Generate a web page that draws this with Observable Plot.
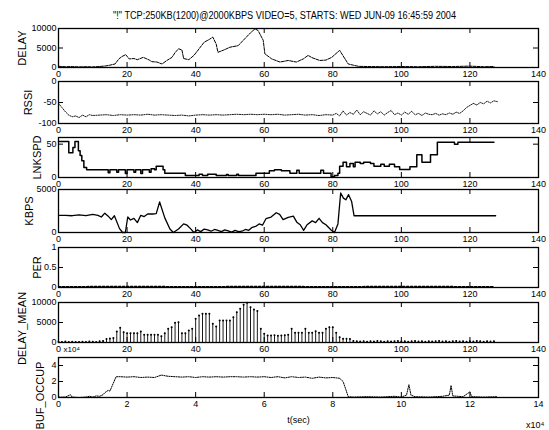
<!DOCTYPE html>
<html><head><meta charset="utf-8">
<script src="https://cdn.jsdelivr.net/npm/d3@7"></script>
<script src="https://cdn.jsdelivr.net/npm/@observablehq/plot@0.6"></script>
<style>
body{margin:0;background:#fff;}
#wrap{position:relative;width:549px;height:430px;overflow:hidden;background:#fff;}
#wrap svg{position:absolute;left:0;}
</style></head><body><div id="wrap"></div>
<script>
const titleText = '"!" TCP:250KB(1200)@2000KBPS VIDEO=5, STARTS: WED JUN-09 16:45:59 2004';
const xTicks = [0,20,40,60,80,100,120,140];
const bufXTicks = [0,2,4,6,8,10,12,14];
const panelNames = ["DELAY","RSSI","LNKSPD","KBPS","PER","DELAY_MEAN","BUF_OCCUP"];

const delayT = [0,2,4,6,8,10,12,13.7,15,16.5,17.6,18.5,19.6,20.6,22,23,24.7,25.5,26.5,27.2,28.7,30.2,31.6,33.1,34,35,36,36.5,38,39.5,41,42.5,44,45,46,46.5,48,50,52.4,54.8,56,57.3,58.2,59.7,60.2,62.2,64.6,67,69.4,71.4,72.8,74,76.2,78,79.7,82,83,84.5,86,87.5,90,95,100,105,110,115,120,124,127];
const delayV = [300,200,250,150,200,150,250,400,600,900,2200,2800,3300,2200,2300,2000,2600,2300,1900,1500,1400,900,1800,2600,3800,4800,4500,2300,2000,3100,4800,6500,7200,7800,6000,3900,4400,5200,5600,7800,8900,9900,9500,7000,3500,2200,1400,1800,1400,2200,3100,2500,1800,1900,2600,4400,3000,900,600,300,250,200,250,200,300,250,350,200,250];

const rssiT = [0,1,2,3,4,5,6,7,8,9,10,12,14,16,18,20,22,24,26,28,30,32,34,36,38,40,42,44,46,48,50,52,54,56,58,60,62,64,66,68,70,72,74,76,78,80,81,82,83,84,85,86,87,88,89,90,91,92,93,94,95,96,97,98,99,100,101,102,103,104,105,106,107,108,109,110,111,112,113,114,115,116,117,118,119,120,121,122,123,124,125,126,127,128];
const rssiV = [-52,-62,-72,-80,-84,-82,-86,-80,-84,-79,-81,-80,-79,-81,-79,-80,-79,-80,-78,-80,-79,-80,-81,-80,-82,-80,-79,-80,-79,-80,-79,-78,-79,-78,-79,-78,-79,-78,-80,-79,-78,-80,-79,-81,-79,-80,-76,-82,-70,-80,-74,-78,-68,-79,-72,-76,-80,-70,-77,-72,-80,-74,-69,-79,-75,-80,-73,-78,-71,-79,-76,-81,-75,-78,-79,-76,-80,-77,-79,-75,-78,-73,-76,-70,-62,-57,-52,-56,-50,-53,-47,-51,-46,-48];

const lnkT = [0,3,4.2,4.8,5.8,6.3,6.8,7.4,8.2,14.5,15,17,17.5,19.5,20,22,22.5,24,24.5,26.5,27,28,28.5,30.5,31,37,41,42,43.5,46,49,49.5,52,52.5,57.6,61.5,63,65,67.5,69.5,70.2,76.5,77.3,79.5,80.5,81.5,82,83,84,85,86,86.5,88,89,91,92,94,95,96.5,98,99.5,102.5,104.5,106,108.5,110.5,115.5,116.5,127];
const lnkV = [54,37,45,54,40,33,25,15,11.5,7,11.5,8,11.5,6,11.5,8,11.5,6,11.5,8,13,11.5,17,11.5,6.5,3,5,3,5,3,4.5,3,5,3,6.5,10,11.5,10,6.5,11,6.5,11,6.5,1,3,6.5,17,23,16,21,16,23,21,23,21,17,20,17,20,16,12,16,34,23,34,53,50,53,53];

const kbpsT = [0.3,2,4,6,8,10,11.5,12.5,13.5,14.5,15.4,16.3,17.8,18.7,19.5,20.2,21,22,23,24,25,26,27.5,28.5,29.5,31,32.5,33.5,35,36.5,37.5,38.5,39.5,40.5,41.5,42.5,43.5,44.5,45.5,46.5,47.5,48.5,49.5,50.5,51.5,52.5,53.5,54.5,55.5,56.5,57.5,58.5,59.5,60.5,62,63.5,64.5,65.5,67,68.5,69.5,70.5,71.5,72.5,74,75,76,77,78,79.5,80.5,81.5,82.3,83.1,83.8,84.6,85.5,86.2,127.5];
const kbpsV = [2000,2000,1950,2050,1950,2100,2000,1800,2250,1900,1500,1950,450,0,0,1800,1450,1650,1150,2000,1850,2150,2150,2200,3550,1700,400,0,400,1000,850,450,0,300,100,400,300,150,350,250,100,300,200,50,250,100,150,350,250,600,700,1000,850,1600,1800,2300,2100,1500,1750,1900,1200,900,250,900,1350,1150,1650,1150,900,300,0,1000,4600,4000,3800,4400,3600,1950,1950];

const perT = [0,20,40,60,80,100,127];
const perV = [0.02,0.03,0.02,0.03,0.02,0.03,0.02];

const delayMeanV = [
200,150,250,100,200,150,100,200,150,250,
200,150,300,400,900,1000,1100,2750,3670,2580,
2330,2330,2330,2330,2750,1920,1920,1920,1920,1920,
1580,2330,3420,3830,4920,5080,2330,2330,3000,3420,
5920,6750,7170,7170,7170,4670,4000,5500,5500,5500,
5500,6330,7580,8420,9420,9920,8830,8250,7900,3420,
2170,1750,1750,1800,1700,1750,1800,1920,3420,2420,
2420,2420,3420,2420,2420,2800,2420,2420,3420,3830,
3830,2420,1330,920,920,900,400,300,250,300,
200,300,250,350,300,200,300,250,300,350,
250,300,200,300,350,250,300,200,300,250,
300,350,250,300,200,300,350,250,300,200,
300,250,350,300,200,300,250,300];

const bufT = [0,0.2,0.35,0.4,0.6,0.8,0.9,1.0,1.1,1.2,1.3,1.35,1.45,1.5,1.55,1.62,1.68,1.8,2.0,2.2,2.4,2.6,2.8,3.0,3.2,3.4,3.6,3.8,4.0,4.2,4.4,4.6,4.8,5.0,5.2,5.4,5.6,5.8,6.0,6.2,6.4,6.6,6.8,7.0,7.2,7.4,7.6,7.8,8.0,8.2,8.3,8.38,8.45,8.6,9.0,9.4,9.8,10.0,10.15,10.22,10.28,10.4,10.8,11.2,11.4,11.45,11.5,11.8,12.0,12.05,12.4,12.8];
const bufV = [0.05,0.05,0.35,0.05,0,0.05,0.15,0.05,0.2,0.15,0.35,0.6,0.9,0.8,1.3,2.0,2.6,2.6,2.55,2.6,2.5,2.55,2.5,2.8,2.65,2.6,2.55,2.6,2.5,2.6,2.55,2.6,2.55,2.6,2.6,2.55,2.6,2.55,2.6,2.5,2.6,2.45,2.6,2.5,2.55,2.4,2.55,2.45,2.5,2.4,2.0,1.0,0.1,0.05,0.1,0.05,0.15,0.05,0.3,1.6,0.3,0.1,0.05,0.15,0.3,1.5,0.2,0.1,0.7,0.1,0.05,0.1];

const zip = (a,b) => a.map((t,i)=>({t, v:b[i]}));
const wrap = document.getElementById("wrap");
const FONT = "'Liberation Sans', Arial, Helvetica, sans-serif";

function panel(cfg) {
  const {top, mt, frameH, mb, xDomain, yDomain, yTicks, xt, name, nameX, nameDy = 0, marks, extra = []} = cfg;
  const [x0, x1] = xDomain, [y0, y1] = yDomain;
  const ylen = (y1 - y0) * 5 / frameH;
  const xlen = (x1 - x0) * 5 / 480;
  const p = Plot.plot({
    width: 549, height: mt + frameH + mb,
    marginTop: mt, marginBottom: mb, marginLeft: 58, marginRight: 11,
    style: {background: "transparent", overflow: "visible", fontFamily: FONT, fontSize: "9px", color: "#000"},
    x: {domain: xDomain},
    y: {domain: yDomain},
    marks: [
      ...marks,
      Plot.frame({stroke: "#000", strokeWidth: 1.3}),
      Plot.ruleX(xt, {y1: y0, y2: y0 + ylen, stroke: "#000", strokeWidth: 1}),
      Plot.ruleX(xt, {y1: y1, y2: y1 - ylen, stroke: "#000", strokeWidth: 1}),
      Plot.ruleY(yTicks, {x1: x0, x2: x0 + xlen, stroke: "#000", strokeWidth: 1}),
      Plot.ruleY(yTicks, {x1: x1, x2: x1 - xlen, stroke: "#000", strokeWidth: 1}),
      Plot.axisX({ticks: xt, anchor: "bottom", tickSize: 0, tickPadding: 3, label: null, tickFormat: d => String(d), fontSize: 9}),
      Plot.axisY({ticks: yTicks, anchor: "left", tickSize: 0, tickPadding: 2, label: null, tickFormat: d => String(d), fontSize: 9}),
      Plot.text([name], {frameAnchor: "left", dx: nameX - 58, dy: nameDy, rotate: -90, textAnchor: "middle", lineAnchor: "middle", fontSize: 11}),
      ...extra
    ]
  });
  p.style.top = top + "px";
  wrap.append(p);
  return p;
}

const p1 = panel({
  top: 0, mt: 28, frameH: 39, mb: 14, xDomain: [0,140], yDomain: [0,10000], yTicks: [0,5000,10000], xt: xTicks,
  name: panelNames[0], nameX: 22,
  marks: [Plot.line(zip(delayT, delayV), {x: "t", y: "v", stroke: "#000", strokeWidth: 1, strokeDasharray: "3,1.2"})],
  extra: [Plot.text([titleText], {frameAnchor: "top", dy: -13, dx: -14, lineAnchor: "middle", fontSize: 10})]
});
d3.select(p1).selectAll("text").filter(function(){ return this.textContent.startsWith('"!"'); })
  .attr("textLength", 343).attr("lengthAdjust", "spacingAndGlyphs");

panel({
  top: 77, mt: 4, frameH: 42, mb: 14, xDomain: [0,140], yDomain: [-100,0], yTicks: [-100,-50,0], xt: xTicks,
  name: panelNames[1], nameX: 28,
  marks: [Plot.line(zip(rssiT, rssiV), {x: "t", y: "v", stroke: "#000", strokeWidth: 0.9, strokeDasharray: "1.2,1.2"})]
});

panel({
  top: 133, mt: 4, frameH: 40, mb: 14, xDomain: [0,140], yDomain: [0,60], yTicks: [0,50], xt: xTicks,
  name: panelNames[2], nameX: 37,
  marks: [Plot.line(zip(lnkT, lnkV), {x: "t", y: "v", curve: "step-after", stroke: "#000", strokeWidth: 1.5})]
});

panel({
  top: 185, mt: 4, frameH: 43, mb: 14, xDomain: [0,140], yDomain: [0,5000], yTicks: [0,5000], xt: xTicks,
  name: panelNames[3], nameX: 29,
  marks: [Plot.line(zip(kbpsT, kbpsV), {x: "t", y: "v", stroke: "#000", strokeWidth: 1.3})]
});

panel({
  top: 243, mt: 4, frameH: 40, mb: 14, xDomain: [0,140], yDomain: [0,1], yTicks: [0,0.5,1], xt: xTicks,
  name: panelNames[4], nameX: 37,
  marks: [Plot.line(zip(perT, perV), {x: "t", y: "v", stroke: "#000", strokeWidth: 1.3, strokeDasharray: "2.5,1.5"})]
});

const dm = delayMeanV.map((v, i) => ({t: i, v}));
panel({
  top: 298, mt: 4, frameH: 40, mb: 14, xDomain: [0,140], yDomain: [0,10000], yTicks: [0,5000,10000], xt: xTicks,
  name: panelNames[5], nameX: 22, nameDy: 6,
  marks: [
    Plot.ruleX(dm, {x: "t", y1: 0, y2: "v", stroke: "#000", strokeWidth: 0.9}),
    Plot.dot(dm, {x: "t", y: "v", r: 1, fill: "#000", stroke: "none"})
  ]
});

panel({
  top: 347, mt: 10, frameH: 40, mb: 33, xDomain: [0,14], yDomain: [0,5], yTicks: [0,2,4], xt: bufXTicks,
  name: panelNames[6], nameX: 40, nameDy: 18,
  marks: [Plot.line(zip(bufT, bufV), {x: "t", y: "v", stroke: "#000", strokeWidth: 1, strokeDasharray: "1.2,1.2"})],
  extra: [
    Plot.text(["x10\u2074"], {frameAnchor: "top-left", dx: 5, dy: -8, textAnchor: "start", lineAnchor: "middle", fontSize: 8}),
    Plot.text(["t(sec)"], {frameAnchor: "bottom", dy: 23, lineAnchor: "middle", fontSize: 9}),
    Plot.text(["x10\u2074"], {frameAnchor: "bottom-right", dx: 6, dy: 28, textAnchor: "end", lineAnchor: "middle", fontSize: 9})
  ]
});
</script></body></html>
